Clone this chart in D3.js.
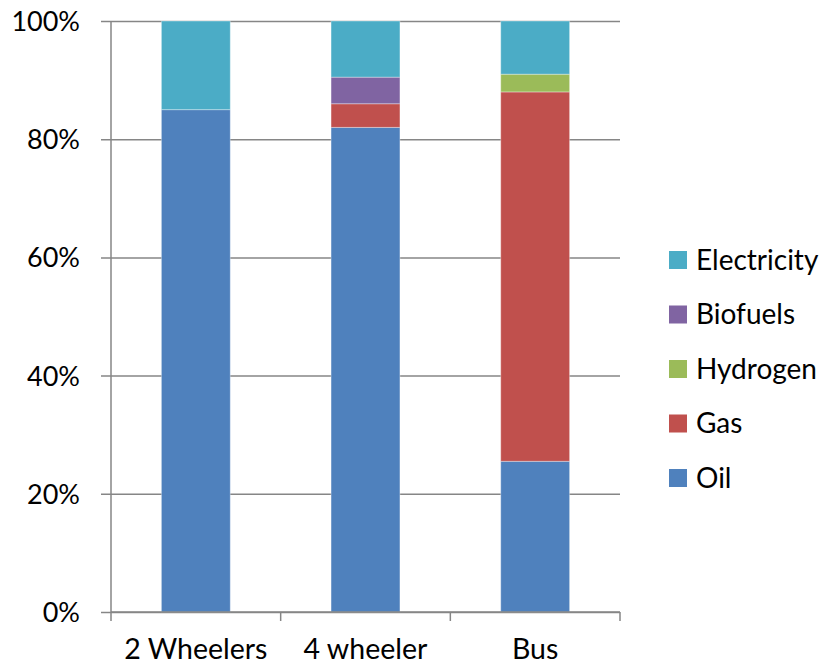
<!DOCTYPE html>
<html>
<head>
<meta charset="utf-8">
<script src="https://cdn.jsdelivr.net/npm/d3@7"></script>
<style>
  html, body { margin: 0; padding: 0; background: #fff; }
  svg text { font-family: Lato, "Open Sans", sans-serif; fill: #000; }
</style>
</head>
<body>
<svg id="chart" width="825" height="666"></svg>
<script>
// Vehicle categories and the share of each energy source (percent)
const categories = ["2 Wheelers", "4 wheeler", "Bus"];
const seriesNames = ["Oil", "Gas", "Hydrogen", "Biofuels", "Electricity"];
const oil         = [85, 82, 25.5];
const gas         = [0, 4, 62.5];
const hydrogen    = [0, 0, 3];
const biofuels    = [0, 4.5, 0];
const electricity = [15, 9.5, 9];
const yTicks = [0, 20, 40, 60, 80, 100];
const colors = {
  Oil: "#4F81BD", Gas: "#C0504D", Hydrogen: "#9BBB59",
  Biofuels: "#8064A2", Electricity: "#4BACC6"
};

const rows = categories.map((c, i) => ({
  category: c, Oil: oil[i], Gas: gas[i], Hydrogen: hydrogen[i],
  Biofuels: biofuels[i], Electricity: electricity[i]
}));

const svg = d3.select("#chart");
const plot = { left: 111, right: 620, top: 21, bottom: 612 };

const x = d3.scaleBand().domain(categories)
  .range([plot.left, plot.right]).paddingInner(0.594).paddingOuter(0.297);
const xOuter = d3.scaleBand().domain(categories).range([plot.left, plot.right]);
const y = d3.scaleLinear().domain([0, 100]).range([plot.bottom, plot.top]);

// Horizontal gridlines with outward tick marks
const yAxis = d3.axisLeft(y).tickValues(yTicks)
  .tickSize(plot.right - plot.left + 10).tickFormat(d => d + "%").tickPadding(22);
const gy = svg.append("g").attr("transform", `translate(${plot.right},0)`).call(yAxis);
gy.select(".domain").remove();
gy.selectAll(".tick line").attr("stroke", "#868686").attr("stroke-width", 1.5);
gy.selectAll(".tick text").attr("x", 80 - plot.right).attr("text-anchor", "end")
  .attr("font-size", 27).attr("dy", "0.35em");

// Vertical axis line
svg.append("line").attr("x1", plot.left).attr("x2", plot.left)
  .attr("y1", plot.top).attr("y2", plot.bottom)
  .attr("stroke", "#868686").attr("stroke-width", 1.5);

// Stacked bars
const stack = d3.stack().keys(seriesNames)(rows);
svg.append("g").selectAll("g").data(stack).join("g")
  .attr("fill", d => colors[d.key])
  .selectAll("rect").data(d => d.filter(p => p[1] - p[0] > 0)).join("rect")
  .attr("x", d => x(d.data.category))
  .attr("width", x.bandwidth())
  .attr("y", d => y(d[1]))
  .attr("height", d => y(d[0]) - y(d[1]))
  .attr("stroke", "rgba(255,255,255,0.35)").attr("stroke-width", 1);

// Category axis with ticks between categories
const boundaries = categories.map(c => xOuter(c)).concat([plot.right]);
svg.append("line").attr("x1", plot.left).attr("x2", plot.right)
  .attr("y1", plot.bottom).attr("y2", plot.bottom)
  .attr("stroke", "#868686").attr("stroke-width", 1.5);
svg.append("g").selectAll("line").data(boundaries).join("line")
  .attr("x1", d => d).attr("x2", d => d)
  .attr("y1", plot.bottom).attr("y2", plot.bottom + 9)
  .attr("stroke", "#868686").attr("stroke-width", 1.5);
svg.append("g").selectAll("text").data(categories).join("text")
  .attr("x", d => xOuter(d) + xOuter.bandwidth() / 2)
  .attr("y", 659).attr("text-anchor", "middle").attr("font-size", 28.5)
  .text(d => d);

// Legend, top entry is the top of the stack
const legendItems = seriesNames.slice().reverse();
const lg = svg.append("g").selectAll("g").data(legendItems).join("g")
  .attr("transform", (d, i) => `translate(669, ${260 + i * 54.5})`);
lg.append("rect").attr("x", 0).attr("y", -9).attr("width", 18).attr("height", 18)
  .attr("fill", d => colors[d]);
lg.append("text").attr("x", 27).attr("y", 0).attr("dy", "0.35em")
  .attr("font-size", 28).text(d => d);
</script>
</body>
</html>
